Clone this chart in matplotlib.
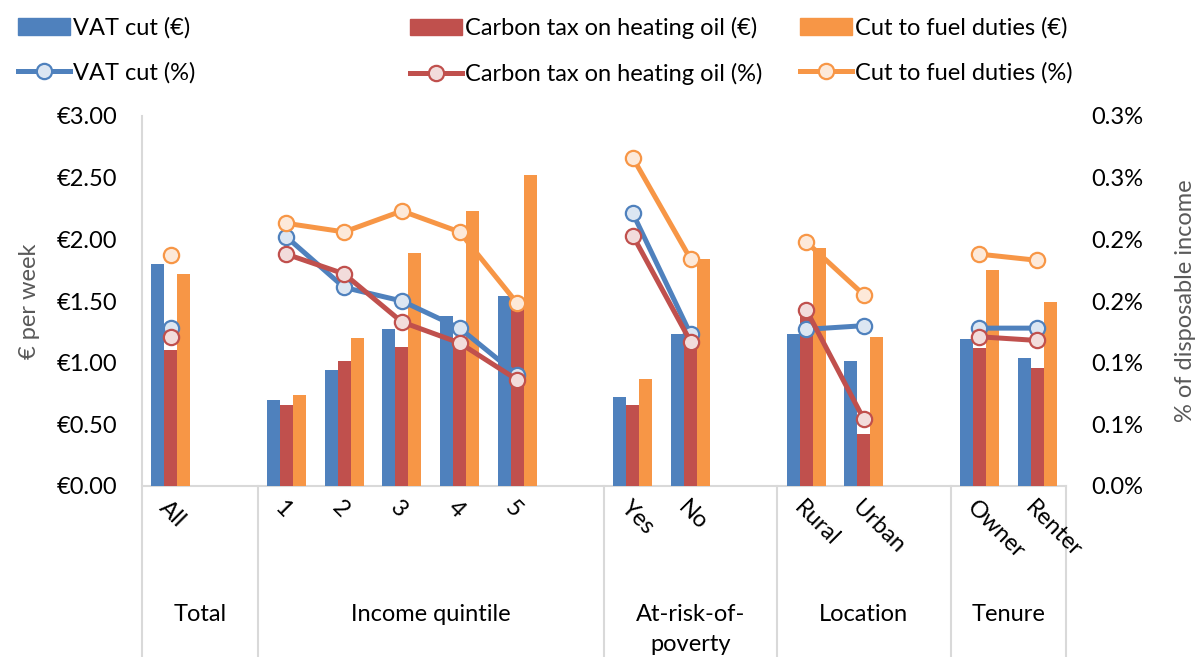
import matplotlib
matplotlib.use("Agg")
import matplotlib.pyplot as plt
import matplotlib.transforms as mtransforms
from matplotlib.lines import Line2D
from matplotlib.patches import Patch
import numpy as np

plt.rcParams['font.family'] = ['Lato', 'DejaVu Sans']

nan = np.nan

# category slots ('' = spacer slot between groups)
categories = ['All', '', '1', '2', '3', '4', '5', '', 'Yes', 'No', '', 'Rural', 'Urban', '', 'Owner', 'Renter']
groups = ['Total', 'Income quintile', 'At-risk-of-\npoverty', 'Location', 'Tenure']
group_bounds = [(-0.5, 1.5), (1.5, 7.5), (7.5, 10.5), (10.5, 13.5), (13.5, 15.5)]

# € per week
vat_eur = [1.80, nan, 0.70, 0.94, 1.27, 1.38, 1.54, nan, 0.72, 1.23, nan, 1.23, 1.01, nan, 1.19, 1.04]
carbon_eur = [1.10, nan, 0.66, 1.01, 1.13, 1.19, 1.45, nan, 0.66, 1.19, nan, 1.42, 0.42, nan, 1.12, 0.96]
fuel_eur = [1.72, nan, 0.74, 1.20, 1.89, 2.23, 2.52, nan, 0.87, 1.84, nan, 1.93, 1.21, nan, 1.75, 1.49]

# % of disposable income
vat_pct = [0.128, nan, 0.202, 0.161, 0.150, 0.128, 0.090, nan, 0.221, 0.123, nan, 0.127, 0.130, nan, 0.128, 0.128]
carbon_pct = [0.121, nan, 0.188, 0.172, 0.133, 0.116, 0.086, nan, 0.203, 0.117, nan, 0.143, 0.054, nan, 0.121, 0.118]
fuel_pct = [0.187, nan, 0.213, 0.206, 0.223, 0.206, 0.148, nan, 0.266, 0.184, nan, 0.198, 0.155, nan, 0.188, 0.183]

eur_ticks = [0, 0.5, 1.0, 1.5, 2.0, 2.5, 3.0]
pct_ticks = [0, 0.05, 0.10, 0.15, 0.20, 0.25, 0.30]
pct_tick_labels = ['0.0%', '0.1%', '0.1%', '0.2%', '0.2%', '0.3%', '0.3%']

blue, red, orange = '#4F81BD', '#C0504D', '#F79646'
blue_l, red_l, orange_l = '#DCE6F2', '#F2DCDB', '#FDE9D9'
grey = '#D9D9D9'
fs = 17

fig = plt.figure(figsize=(11.96, 6.57), dpi=100)
ax = fig.add_axes([142 / 1196, 171 / 657, 924 / 1196, 370 / 657])
ax2 = ax.twinx()

x = np.arange(len(categories))
w = 0.225
ax.bar(x - w, vat_eur, w, color=blue, zorder=2)
ax.bar(x, carbon_eur, w, color=red, zorder=2)
ax.bar(x + w, fuel_eur, w, color=orange, zorder=2)

lw, ms = 3.6, 11
for vals, c, cl in [(vat_pct, blue, blue_l), (carbon_pct, red, red_l), (fuel_pct, orange, orange_l)]:
    ax2.plot(x, vals, color=c, lw=lw, marker='o', ms=ms, mfc=cl, mec=c, mew=1.6,
             solid_capstyle='round')

ax.set_xlim(-0.5, len(categories) - 0.5)
ax.set_ylim(0, 3)
ax2.set_ylim(0, 0.3)
ax.set_yticks(eur_ticks)
ax.set_yticklabels(['€%.2f' % v for v in eur_ticks])
ax2.set_yticks(pct_ticks)
ax2.set_yticklabels(pct_tick_labels)
ax.tick_params(axis='y', length=0, pad=18, labelsize=fs)
ax2.tick_params(axis='y', length=0, pad=18, labelsize=fs)
ax.set_xticks([])

for a in (ax, ax2):
    for s in ['top', 'right', 'left', 'bottom']:
        a.spines[s].set_visible(False)

ax.set_ylabel('€ per week', fontsize=fs, color='#595959', labelpad=12)
ax2.set_ylabel('% of disposable income', fontsize=fs, color='#595959')
ax2.yaxis.set_label_coords(1.118, 0.5)

# axis lines and category separators
trans = mtransforms.blended_transform_factory(ax.transData, ax.transAxes)
bottom = -171 / 370
ax.plot([-0.5, len(categories) - 0.5], [0, 0], transform=trans, color=grey, lw=1.5, clip_on=False, zorder=1)
ax.plot([-0.5, -0.5], [bottom, 1.0], transform=trans, color=grey, lw=1.5, clip_on=False, zorder=1)
for lo, hi in group_bounds:
    ax.plot([hi, hi], [bottom, 0], transform=trans, color=grey, lw=1.5, clip_on=False)

# category labels
for xi, lab in zip(x, categories):
    if lab:
        ax.text(xi - 0.15, -18 / 370, lab, transform=trans, rotation=-45, rotation_mode='anchor',
                ha='left', va='center', fontsize=fs)

# group labels
for (lo, hi), g in zip(group_bounds, groups):
    ax.text((lo + hi) / 2, -118 / 370, g, transform=trans, ha='center', va='top',
            fontsize=fs, linespacing=1.55)

# legend
leg_sets = [
    (18, 'VAT cut', blue, blue_l),
    (410, 'Carbon tax on heating oil', red, red_l),
    (800, 'Cut to fuel duties', orange, orange_l),
]
for px, name, c, cl in leg_sets:
    handles = [Patch(color=c, label=name + ' (€)'),
               Line2D([], [], color=c, lw=lw, marker='o', ms=ms, mfc=cl, mec=c, mew=1.6,
                      label=name + ' (%)')]
    fig.legend(handles=handles, loc='upper left', bbox_to_anchor=(px / 1196, 1 - 17 / 657),
               frameon=False, fontsize=fs, handlelength=2.2, handletextpad=0.15,
               borderpad=0, borderaxespad=0, labelspacing=1.0)

fig.savefig('out.png', dpi=100)
